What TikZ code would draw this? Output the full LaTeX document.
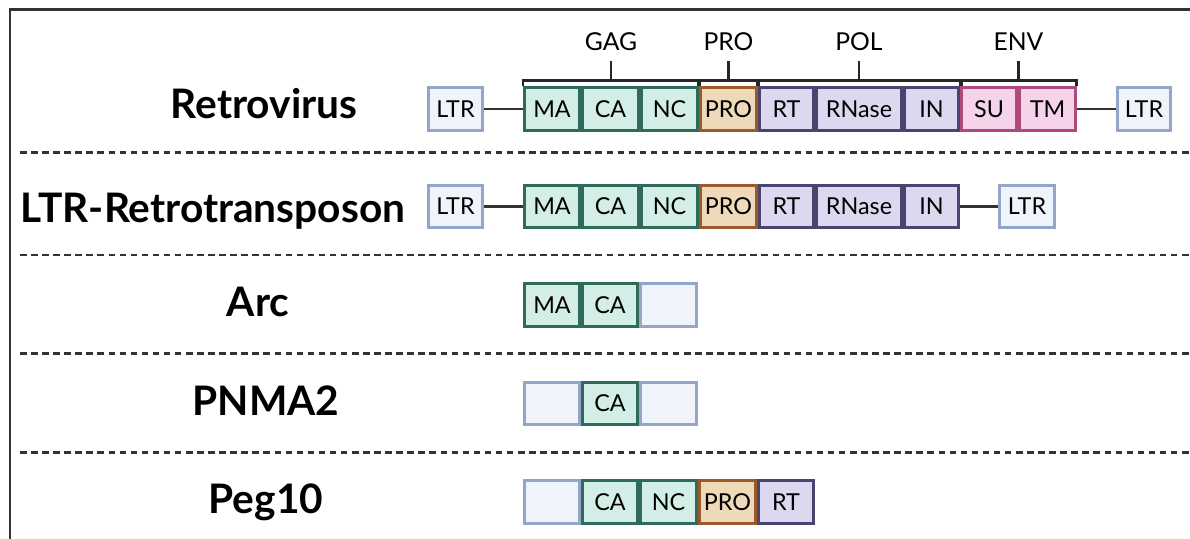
\documentclass[tikz,border=0pt]{standalone}
\usepackage{fontspec}
\setmainfont{Lato}
\definecolor{ltrfill}{HTML}{EFF3FA}
\definecolor{ltrdraw}{HTML}{93A5C9}
\definecolor{gagfill}{HTML}{D3EEE7}
\definecolor{gagdraw}{HTML}{2F6B5C}
\definecolor{profill}{HTML}{EED9B8}
\definecolor{prodraw}{HTML}{9A5A2C}
\definecolor{polfill}{HTML}{DCD8F0}
\definecolor{poldraw}{HTML}{4A4470}
\definecolor{envfill}{HTML}{F5D3EA}
\definecolor{envdraw}{HTML}{AE4A7E}
\definecolor{ink}{HTML}{333333}
\begin{document}
\begin{tikzpicture}[x=0.75pt,y=-0.75pt,
  gene/.style={draw, line width=2.1pt, minimum height=32pt, inner sep=0pt,
    font=\fontsize{17.5pt}{19pt}\selectfont, text=black},
  bw/.style={minimum width=#1*0.75pt-2.1pt},
  ltr/.style={gene, fill=ltrfill, draw=ltrdraw},
  gag/.style={gene, fill=gagfill, draw=gagdraw},
  pro/.style={gene, fill=profill, draw=prodraw},
  pol/.style={gene, fill=polfill, draw=poldraw},
  env/.style={gene, fill=envfill, draw=envdraw},
  link/.style={draw=ink, line width=1.8pt},
  brk/.style={draw=black!85, line width=1.7pt},
  brklabel/.style={font=\fontsize{18.5pt}{20pt}\selectfont, anchor=base, inner sep=0pt},
  rowlabel/.style={font=\fontsize{30.5pt}{32pt}\selectfont\bfseries, anchor=base, inner sep=0pt},
  divider/.style={draw=ink, line width=2pt, dash pattern=on 4.9pt off 3.4pt},
  frame/.style={draw=ink, line width=1.8pt}
]
\useasboundingbox (0,0) rectangle (1190,539);
% frame
\draw[frame] (10,539) -- (10,9.5) -- (1190,9.5);
% dividers
\draw[divider] (20,152.5) -- (1190,152.5);
\draw[divider] (20,255) -- (1190,255);
\draw[divider] (20,353.5) -- (1190,353.5);
\draw[divider] (20,452.5) -- (1190,452.5);
% row labels
\node[rowlabel] (lab1) at (264,118.5) {Retrovirus};
\node[rowlabel] (lab2) at (213,222) {LTR-Retrotransposon};
\node[rowlabel] (lab3) at (258,316) {Arc};
\node[rowlabel] (lab4) at (266,415.5) {PNMA2};
\node[rowlabel] (lab5) at (266,513.5) {Peg10};
% row 1
\node[ltr,bw=57] (a1) at (455.5,109) {LTR};
\node[gag,bw=58] (a2) at (552,109) {MA};
\node[gag,bw=59] (a3) at (610.5,109) {CA};
\node[gag,bw=59] (a4) at (669.5,109) {NC};
\node[pro,bw=59] (a5) at (728.5,109) {PRO};
\node[pol,bw=57] (a6) at (786.5,109) {RT};
\node[pol,bw=88] (a7) at (859,109) {RNase};
\node[pol,bw=57] (a8) at (931.5,109) {IN};
\node[env,bw=58] (a9) at (989,109) {SU};
\node[env,bw=59] (a10) at (1047.5,109) {TM};
\node[ltr,bw=56] (a11) at (1144,109) {LTR};
\draw[link] (a1.east) -- (a2.west);
\draw[link] (a10.east) -- (a11.west);
% brackets
\draw[brk] (523,85.5) -- (523,80.5) -- (698.5,80.5) -- (698.5,85.5);
\draw[brk] (611,80.5) -- (611,61);
\node[brklabel] (gag) at (611,50.5) {GAG};
\draw[brk] (700,85.5) -- (700,80.5) -- (757.5,80.5) -- (757.5,85.5);
\draw[brk] (728.5,80.5) -- (728.5,61);
\node[brklabel] (prol) at (728.5,50.5) {PRO};
\draw[brk] (759,85.5) -- (759,80.5) -- (960,80.5) -- (960,85.5);
\draw[brk] (859,80.5) -- (859,61);
\node[brklabel] (pol) at (859,50.5) {POL};
\draw[brk] (962,85.5) -- (962,80.5) -- (1076.5,80.5) -- (1076.5,85.5);
\draw[brk] (1018.5,80.5) -- (1018.5,61);
\node[brklabel] (env) at (1018.5,50.5) {ENV};
% row 2
\node[ltr,bw=57] (b1) at (455.5,206.5) {LTR};
\node[gag,bw=58] (b2) at (552,206.5) {MA};
\node[gag,bw=59] (b3) at (610.5,206.5) {CA};
\node[gag,bw=59] (b4) at (669.5,206.5) {NC};
\node[pro,bw=59] (b5) at (728.5,206.5) {PRO};
\node[pol,bw=57] (b6) at (786.5,206.5) {RT};
\node[pol,bw=88] (b7) at (859,206.5) {RNase};
\node[pol,bw=57] (b8) at (931.5,206.5) {IN};
\node[ltr,bw=58] (b9) at (1027,206.5) {LTR};
\draw[link] (b1.east) -- (b2.west);
\draw[link] (b8.east) -- (b9.west);
% row 3 Arc
\node[gag,bw=58] (c1) at (552,305) {MA};
\node[gag,bw=58] (c2) at (610,305) {CA};
\node[ltr,bw=59] (c3) at (668.5,305) {};
% row 4 PNMA2
\node[ltr,bw=58] (d1) at (552,403.5) {};
\node[gag,bw=58] (d2) at (610,403.5) {CA};
\node[ltr,bw=59] (d3) at (668.5,403.5) {};
% row 5 Peg10
\node[ltr,bw=58] (e1) at (552,502) {};
\node[gag,bw=58] (e2) at (610,502) {CA};
\node[gag,bw=59] (e3) at (668.5,502) {NC};
\node[pro,bw=59] (e4) at (727.5,502) {PRO};
\node[pol,bw=58] (e5) at (786,502) {RT};
\end{tikzpicture}
\end{document}
